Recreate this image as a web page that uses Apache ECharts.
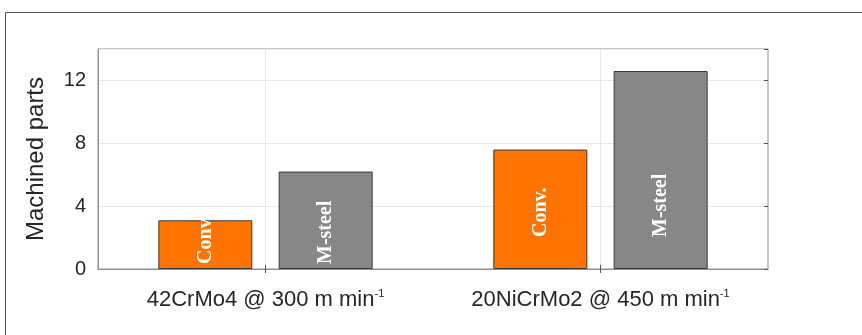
<!DOCTYPE html>
<html>
<head>
<meta charset="utf-8">
<script src="https://cdn.jsdelivr.net/npm/echarts@6/dist/echarts.min.js"></script>
<style>html,body{margin:0;padding:0;background:#fff}#c{width:862px;height:335px}</style>
</head>
<body>
<div id="c"></div>
<script>
const categories = ['42CrMo4 @ 300 m min', '20NiCrMo2 @ 450 m min'];
const convValues = [3.1, 7.6];
const msteelValues = [6.2, 12.6];
const yTicks = [0, 4, 8, 12];
const seriesNames = ['Conv.', 'M-steel'];
const yName = 'Machined parts';

const chart = echarts.init(document.getElementById('c'), null, {renderer: 'canvas'});
const labelDist = [5, 32];
function mkData(vals) {
  return vals.map((v, i) => ({value: v, label: {distance: labelDist[i]}}));
}
const barLabel = {
  show: true, position: 'insideBottom', rotate: 90, align: 'left', verticalAlign: 'middle',
  formatter: '{a}', color: '#ffffff', fontFamily: 'Liberation Serif', fontWeight: 'bold', fontSize: 20
};
const axisFont = {fontFamily: 'Liberation Sans', color: '#262626'};
chart.setOption({
  animation: false,
  graphic: [{type: 'rect', left: 3, top: 10, shape: {width: 900, height: 400},
    style: {fill: 'none', stroke: '#555', lineWidth: 1}, silent: true}],
  grid: {left: 98, right: 94, top: 49, bottom: 66, show: true, borderColor: '#8f8f8f', borderWidth: 1, containLabel: false},
  xAxis: [{
    type: 'category', data: categories, position: 'bottom',
    axisLine: {show: true, lineStyle: {color: '#8f8f8f'}},
    axisTick: {show: true, inside: true, alignWithLabel: true, length: 4, lineStyle: {color: '#555'}},
    splitLine: {show: true, alignWithLabel: true, lineStyle: {color: '#e8e8e8', width: 1}},
    axisLabel: {margin: 19, formatter: v => '{a|' + v + '}{s|-1}',
      rich: {a: Object.assign({fontSize: 22, lineHeight: 24}, axisFont),
             s: Object.assign({fontSize: 11, verticalAlign: 'top', lineHeight: 11}, axisFont)}}
  }, {
    type: 'category', data: categories, position: 'top',
    axisLine: {show: false},
    axisTick: {show: true, inside: true, alignWithLabel: true, length: 4, lineStyle: {color: '#555'}},
    axisLabel: {show: false}, splitLine: {show: false}
  }],
  yAxis: [{
    type: 'value', min: 0, max: 14, interval: 4, position: 'left',
    name: yName, nameLocation: 'middle', nameGap: 50,
    nameTextStyle: Object.assign({fontSize: 24}, axisFont),
    axisLine: {show: true, lineStyle: {color: '#8f8f8f'}},
    axisTick: {show: false},
    splitLine: {show: true, lineStyle: {color: '#e8e8e8', width: 1}},
    axisLabel: Object.assign({fontSize: 20, margin: 12, showMaxLabel: false,
      formatter: v => yTicks.indexOf(v) >= 0 ? String(v) : ''}, axisFont)
  }, {
    type: 'value', min: 0, max: 14, interval: 4, position: 'right',
    axisLine: {show: false},
    axisTick: {show: true, inside: true, length: 4, lineStyle: {color: '#555'}},
    splitLine: {show: false}, axisLabel: {show: false}
  }],
  series: [{
    name: seriesNames[0], type: 'bar', data: mkData(convValues), barWidth: 94, barGap: '28%',
    itemStyle: {color: '#ff7400', borderColor: '#3a3a3a', borderWidth: 1}, label: barLabel
  }, {
    name: seriesNames[1], type: 'bar', data: mkData(msteelValues), barWidth: 94, barGap: '28%',
    itemStyle: {color: '#878787', borderColor: '#3a3a3a', borderWidth: 1}, label: barLabel
  }]
});
</script>
</body>
</html>
